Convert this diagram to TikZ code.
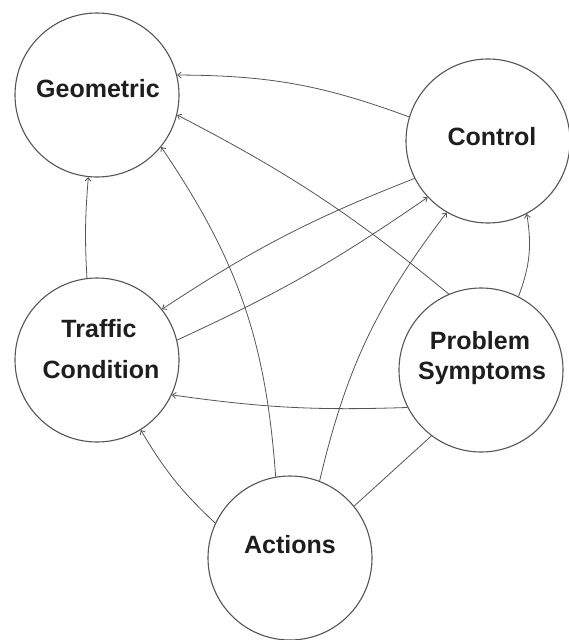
\documentclass[tikz,border=0pt]{standalone}
\usepackage{fontspec}
\setmainfont{Liberation Sans}
\usetikzlibrary{arrows.meta}
\definecolor{linec}{HTML}{555555}
\definecolor{txtc}{HTML}{1E1E1E}
\begin{document}
\begin{tikzpicture}[x=1pt,y=1pt,
  state/.style={circle,draw=linec,line width=1.1pt,minimum size=164pt,inner sep=0pt},
  lbl/.style={font=\fontsize{25}{30}\selectfont\bfseries,text=txtc,inner sep=0pt,anchor=base},
  conn/.style={draw=linec,line width=0.8pt,-{Straight Barb[length=3.5pt,width=6pt]}},
  link/.style={draw=linec,line width=0.8pt}]
\fill[white] (0,0) rectangle (569,-640);
\useasboundingbox (0,0) rectangle (569,-640);
% circles
\node[state] (geo) at (97,-95) {};
\node[state] (ctl) at (488,-141) {};
\node[state] (trf) at (97,-360) {};
\node[state] (prb) at (481,-370) {};
\node[state] (act) at (290,-558) {};
% labels
\node[lbl] (geoT) at (98,-97) {Geometric};
\node[lbl] (ctlT) at (492,-145) {Control};
\node[lbl] (trfT) at (99,-337) {Traffic};
\node[lbl] (trfT2) at (101,-378) {Condition};
\node[lbl] (prbT) at (480,-349) {Problem};
\node[lbl] (prbT2) at (482,-379) {Symptoms};
\node[lbl] (actT) at (290,-553) {Actions};
% connectors
\draw[conn] (ctl.163) to[bend right=10] (geo.14);
\draw[conn] (prb.113) to[bend right=6] (geo.346);
\draw[conn] (act.100) to[bend right=15] (geo.321);
\draw[conn] (trf.97) to[bend left=4] (geo.264);
\draw[conn] (ctl.207) to[bend right=6] (trf.38);
\draw[conn] (trf.14) to[bend right=5] (ctl.223);
\draw[conn] (act.69) to[bend left=12] (ctl.240);
\draw[conn] (prb.63) to[bend right=15] (ctl.298);
\draw[conn] (prb.207) to[bend left=5] (trf.335);
\draw[conn] (act.155) to[bend left=8] (trf.302);
\draw[link] (act.39) -- (prb.233);
\end{tikzpicture}
\end{document}
